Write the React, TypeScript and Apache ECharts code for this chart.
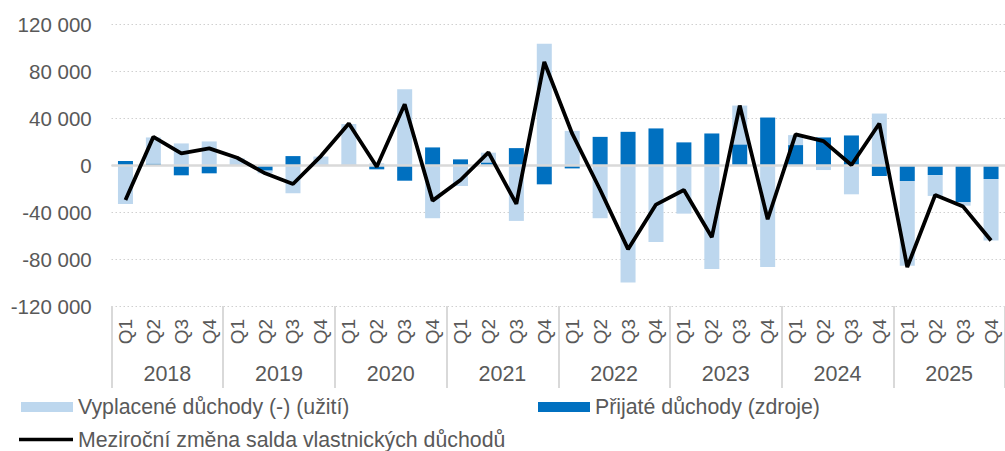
import React, { useEffect, useRef } from "react";
import * as echarts from "echarts";

const years = ["2018", "2019", "2020", "2021", "2022", "2023", "2024", "2025"];
const quarterNames = ["Q1", "Q2", "Q3", "Q4"];

// Vyplacené důchody (-) (užití) – stacked on top of received
const paid = [
  -32900, 22300, 18700, 20400,
  6000, -2300, -23800, 7000,
  34800, 1700, 64900, -45100,
  -17600, 8300, -47400, 103800,
  29400, -45100, -99900, -65300,
  -41200, -88500, 33100, -86800,
  8500, -4000, -24700, 44200,
  -72300, -17800, -2900, -52400,
];

// Přijaté důchody (zdroje)
const received = [
  3700, 1500, -8500, -6800,
  0, -4500, 7900, 500,
  500, -3400, -13100, 15300,
  5100, 2500, 14700, -16200,
  -2600, 24300, 28600, 31500,
  19600, 27200, 17900, 40800,
  17300, 23800, 25500, -9100,
  -13400, -8300, -31500, -11700,
];

// Meziroční změna salda vlastnických důchodů
const change = [
  -29500, 24300, 10200, 14500,
  6500, -6800, -15900, 7900,
  35700, -1200, 52200, -30100,
  -12500, 11000, -32900, 88200,
  27000, -20800, -71500, -33500,
  -21000, -61300, 51000, -46000,
  26400, 20700, 300, 35700,
  -86800, -25300, -35200, -64100,
];

const yTicks = { min: -120000, max: 120000, interval: 40000 };

const S_PAID = "Vyplacené důchody (-) (užití)";
const S_REC = "Přijaté důchody (zdroje)";
const S_LINE = "Meziroční změna salda vlastnických důchodů";

const FONT = "'Liberation Sans', Arial, sans-serif";
const TXT = "#595959";

function fmt(v: number): string {
  const s = String(Math.abs(v)).replace(/\B(?=(\d{3})+(?!\d))/g, " ");
  return v < 0 ? "-" + s : s;
}

export default function App() {
  const ref = useRef<HTMLDivElement>(null);
  useEffect(() => {
    if (!ref.current) return;
    const chart = echarts.init(ref.current, null, { renderer: "svg" });
    const quarters: string[] = [];
    years.forEach(() => quarterNames.forEach((q) => quarters.push(q)));

    const legendText = { fontSize: 21.3, color: TXT, fontFamily: FONT };

    chart.setOption({
      animation: false,
      textStyle: { fontFamily: FONT },
      grid: { left: 111.5, top: 24.7, width: 901.5, height: 281.3, containLabel: false },
      legend: [
        {
          data: [S_PAID], left: 21, top: 396.5, padding: 0, icon: "rect",
          itemWidth: 52, itemHeight: 10, textStyle: legendText,
        },
        {
          data: [S_REC], left: 538, top: 396.5, padding: 0, icon: "rect",
          itemWidth: 52, itemHeight: 10, textStyle: legendText,
        },
        {
          data: [S_LINE], left: 19, top: 429, padding: 0, icon: "rect",
          itemWidth: 54, itemHeight: 3.5, textStyle: legendText,
        },
      ],
      xAxis: [
        {
          type: "category",
          data: quarters,
          position: "bottom",
          axisLine: { show: false },
          axisTick: { show: false },
          axisLabel: {
            rotate: 90, margin: 13, fontSize: 19, color: TXT, fontFamily: FONT,
            interval: 0,
          },
        },
        {
          type: "category",
          data: years,
          position: "bottom",
          axisLine: { show: false },
          axisTick: {
            show: true, interval: 0, length: 82, alignWithLabel: false,
            lineStyle: { color: "#d9d9d9", width: 2 },
          },
          axisLabel: { margin: 57, fontSize: 21.5, color: TXT, fontFamily: FONT, interval: 0 },
        },
      ],
      yAxis: {
        type: "value",
        min: yTicks.min,
        max: yTicks.max,
        interval: yTicks.interval,
        axisLine: { show: false },
        axisTick: { show: false },
        axisLabel: { margin: 19.8, fontSize: 20.5, color: TXT, fontFamily: FONT, formatter: fmt },
        splitLine: { show: true, lineStyle: { color: "#d0d0d0", type: [1.5, 2.5], width: 1 } },
      },
      series: [
        {
          name: S_REC,
          type: "bar",
          stack: "total",
          xAxisIndex: 0,
          data: received,
          barWidth: 15,
          itemStyle: { color: "#0070C0" },
          markLine: {
            silent: true, symbol: "none", label: { show: false },
            lineStyle: { color: "#d9d9d9", width: 2.5, type: "solid" },
            data: [{ yAxis: 0 }],
          },
        },
        {
          name: S_PAID,
          type: "bar",
          stack: "total",
          xAxisIndex: 0,
          data: paid,
          barWidth: 15,
          itemStyle: { color: "#BDD7EE" },
        },
        {
          name: S_LINE,
          type: "line",
          xAxisIndex: 0,
          data: change,
          showSymbol: false,
          symbol: "none",
          z: 5,
          lineStyle: { color: "#000000", width: 3.8 },
          itemStyle: { color: "#000000" },
        },
      ],
    });
    return () => chart.dispose();
  }, []);
  return (
    <div
      ref={ref}
      style={{ position: "fixed", left: 0, top: 0, width: 1005, height: 451, background: "#fff" }}
    />
  );
}
